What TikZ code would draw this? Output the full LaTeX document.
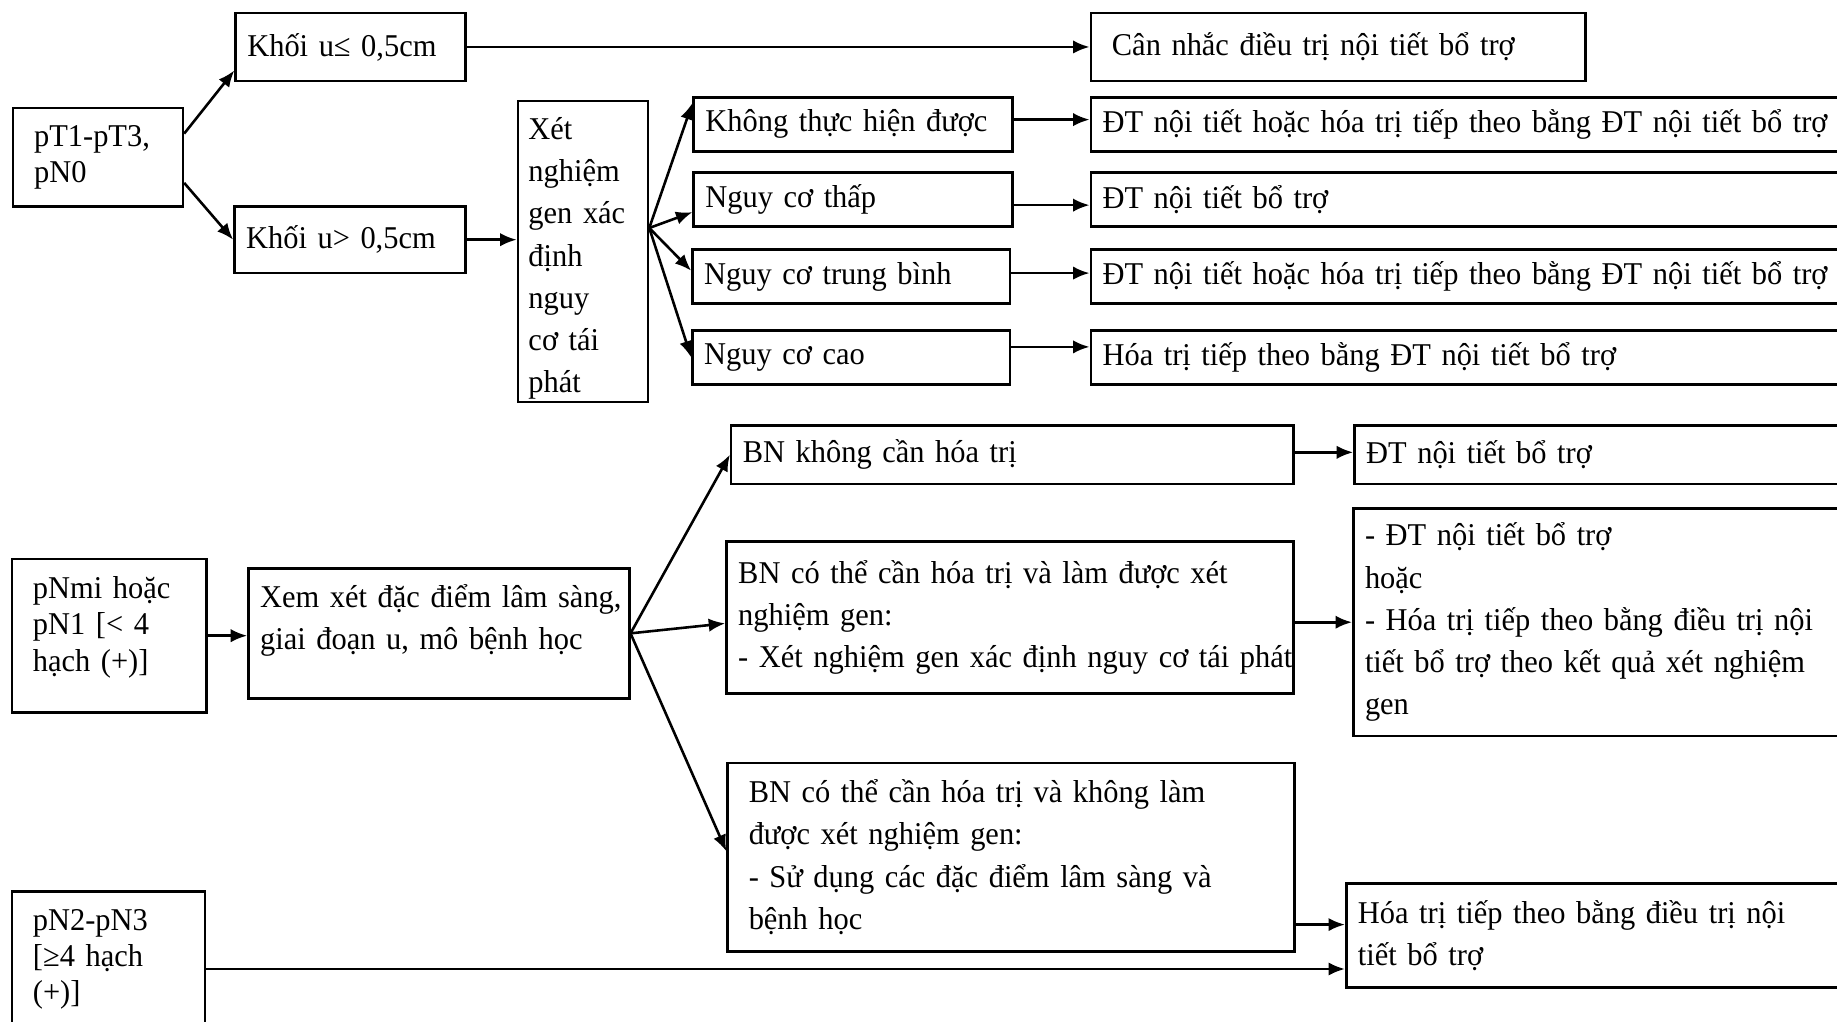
\documentclass[tikz,border=0pt]{standalone}
\usepackage{fontspec}
\setmainfont[FakeStretch=0.96]{Liberation Serif}
\usetikzlibrary{arrows,arrows.meta,positioning}

\tikzset{
  box/.style={draw, line width=1.25pt, anchor=north west, inner xsep=0.2cm, inner ysep=0pt,
    align=left, font=\fontsize{15.4pt}{20.5pt}\selectfont},
  wide/.style={box, inner xsep=0.36cm},
  tight/.style={font=\fontsize{15.4pt}{17.6pt}\selectfont},
  arr/.style={->, >={Latex[length=8pt,width=6.5pt]}, line width=1.25pt},
}

\begin{document}
\begin{tikzpicture}
  \useasboundingbox (0,0) rectangle (31.36,-17.44);
  \clip (0,0) rectangle (31.36,-17.44);

  %% pT1-pT3, pN0
  \node[wide,tight,minimum width=2.9cm,minimum height=1.68cm,text width=2.18cm] (pt) at (0.2,-1.82) {\mbox{pT1-pT3,}\\pN0};
  \node[box,minimum width=3.92cm,minimum height=1.16cm,text width=3.52cm] (us) at (4.0,-0.2) {Khối u≤ 0,5cm};
  \node[box,minimum width=3.94cm,minimum height=1.14cm,text width=3.54cm] (ul) at (3.98,-3.5) {Khối u> 0,5cm};
  \node[box,inner xsep=0.18cm,minimum width=2.22cm,minimum height=5.14cm,text width=1.86cm] (xn) at (8.82,-1.7) {\rule{0pt}{0.62cm}Xét\\nghiệm\\gen xác\\định\\nguy\\cơ tái\\phát};
  \node[wide,minimum width=8.44cm,minimum height=1.16cm,text width=7.72cm] (cn) at (18.6,-0.2) {Cân nhắc điều trị nội tiết bổ trợ};

  \node[box,minimum width=5.44cm,minimum height=0.92cm,text width=5.04cm] (kt) at (11.82,-1.64) {\mbox{Không thực hiện được}};
  \node[box,minimum width=5.44cm,minimum height=0.92cm,text width=5.04cm] (nt) at (11.82,-2.92) {Nguy cơ thấp};
  \node[box,minimum width=5.42cm,minimum height=0.92cm,text width=5.02cm] (nb) at (11.8,-4.24) {Nguy cơ trung bình};
  \node[box,minimum width=5.42cm,minimum height=0.92cm,text width=5.02cm] (nc) at (11.8,-5.62) {Nguy cơ cao};

  \node[box,minimum width=14cm,minimum height=0.92cm,text width=13.6cm] (r1) at (18.6,-1.64) {ĐT nội tiết hoặc hóa trị tiếp theo bằng ĐT nội tiết bổ trợ};
  \node[box,minimum width=14cm,minimum height=0.92cm,text width=13.6cm] (r2) at (18.6,-2.92) {ĐT nội tiết bổ trợ};
  \node[box,minimum width=14cm,minimum height=0.92cm,text width=13.6cm] (r3) at (18.6,-4.24) {ĐT nội tiết hoặc hóa trị tiếp theo bằng ĐT nội tiết bổ trợ};
  \node[box,minimum width=14cm,minimum height=0.92cm,text width=13.6cm] (r4) at (18.6,-5.62) {Hóa trị tiếp theo bằng ĐT nội tiết bổ trợ};

  \draw[arr] ([yshift=0.4cm]pt.east) -- ([yshift=0.2cm]us.south west);
  \draw[arr] ([yshift=-0.44cm]pt.east) -- (ul.west);
  \draw[arr] (us.east) -- (us.east -| cn.west);
  \draw[arr] (ul.east) -- (ul.east -| xn.west);

  \coordinate (fan) at ([yshift=0.4cm]xn.east);
  \draw[arr] (fan) -- ([yshift=-0.12cm]kt.north west);
  \draw[arr] (fan) -- ([yshift=-0.22cm]nt.west);
  \draw[arr] (fan) -- ([yshift=0.1cm]nb.west);
  \draw[arr] (fan) -- (nc.west);

  \draw[arr] ([yshift=0.08cm]kt.east) -- ([yshift=0.08cm]kt.east -| r1.west);
  \draw[arr] ([yshift=-0.1cm]nt.east) -- ([yshift=-0.1cm]nt.east -| r2.west);
  \draw[arr] ([yshift=0.06cm]nb.east) -- ([yshift=0.06cm]nb.east -| r3.west);
  \draw[arr] ([yshift=0.18cm]nc.east) -- ([yshift=0.18cm]nc.east -| r4.west);

  %% pNmi / pN1 and pN2-pN3
  \node[wide,tight,minimum width=3.32cm,minimum height=2.62cm,text width=2.6cm] (pm) at (0.18,-9.52) {\mbox{pNmi hoặc}\\pN1 [< 4\\hạch (+)]\rule[-0.4cm]{0pt}{0.4cm}};
  \node[box,minimum width=6.5cm,minimum height=2.22cm,text width=6.1cm] (xx) at (4.22,-9.68) {\mbox{Xem xét đặc điểm lâm sàng,}\\giai đoạn u, mô bệnh học\rule[-0.56cm]{0pt}{0.56cm}};
  \node[wide,tight,minimum width=3.3cm,minimum height=2.32cm,text width=2.58cm] (pn) at (0.18,-15.2) {pN2-pN3\\{[}≥4 hạch\\(+)]};

  \node[box,minimum width=9.6cm,minimum height=1.0cm,text width=9.2cm] (b1) at (12.46,-7.24) {BN không cần hóa trị};
  \node[box,minimum width=9.68cm,minimum height=2.6cm,text width=9.28cm] (b2) at (12.38,-9.22) {BN có thể cần hóa trị và làm được xét\\nghiệm gen:\\\mbox{- Xét nghiệm gen xác định nguy cơ tái phát}};
  \node[wide,minimum width=9.68cm,minimum height=3.22cm,text width=8.96cm] (b3) at (12.4,-13.0) {BN có thể cần hóa trị và không làm\\được xét nghiệm gen:\\- Sử dụng các đặc điểm lâm sàng và\\bệnh học};

  \node[box,minimum width=9.9cm,minimum height=1.0cm,text width=9.5cm] (d1) at (23.1,-7.24) {ĐT nội tiết bổ trợ};
  \node[box,minimum width=9.9cm,minimum height=3.88cm,text width=9.5cm] (d2) at (23.08,-8.66) {- ĐT nội tiết bổ trợ\\hoặc\\- Hóa trị tiếp theo bằng điều trị nội\\tiết bổ trợ theo kết quả xét nghiệm\\gen};
  \node[box,minimum width=10cm,minimum height=1.78cm,text width=9.6cm] (d3) at (22.96,-15.06) {Hóa trị tiếp theo bằng điều trị nội\\tiết bổ trợ};

  \draw[arr] (pm.east) -- (pm.east -| xx.west);
  \draw[arr] (xx.east) -- (b1.west);
  \draw[arr] (xx.east) -- ([yshift=-0.1cm]b2.west);
  \draw[arr] (xx.east) -- ([yshift=0.1cm]b3.west);
  \draw[arr] ([yshift=0.04cm]b1.east) -- ([yshift=0.04cm]b1.east -| d1.west);
  \draw[arr] ([yshift=-0.08cm]b2.east) -- ([yshift=-0.08cm]b2.east -| d2.west);
  \draw[arr] ([yshift=0.48cm]b3.south east) -- ([yshift=0.48cm]b3.south east -| d3.west);
  \draw[arr] ([yshift=-0.16cm]pn.east) -- ([yshift=-0.16cm]pn.east -| d3.west);
\end{tikzpicture}
\end{document}
